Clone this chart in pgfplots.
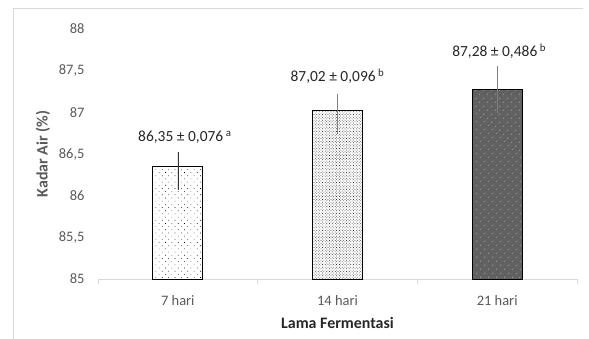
\documentclass[border=0pt]{standalone}
\usepackage{fontspec}
\setmainfont{Carlito}
\usepackage{pgfplots}
\pgfplotsset{compat=1.18}
\usetikzlibrary{patterns.meta}

\definecolor{ticktext}{HTML}{595959}
\definecolor{labeltext}{HTML}{262626}
\definecolor{axisgray}{HTML}{D9D9D9}
\definecolor{errgray}{HTML}{7F7F7F}

\begin{document}
\begin{tikzpicture}[x=1bp,y=1bp]
\begin{axis}[
  at={(98bp,59bp)}, anchor=south west,
  scale only axis,
  width=479bp, height=250bp,
  ybar, bar width=50bp, bar shift=0pt,
  xmin=-0.5, xmax=2.5,
  ymin=85, ymax=88,
  ytick={85,85.5,86,86.5,87,87.5,88},
  xtick={0,1,2},
  xticklabels={7 hari,14 hari,21 hari},
  minor xtick={-0.5,0.5,1.5,2.5},
  major tick length=0pt,
  minor tick length=5bp,
  tick align=outside,
  axis x line*=bottom, axis y line*=left,
  x axis line style={draw=axisgray, line width=0.8bp, -},
  y axis line style={draw=none},
  minor x tick style={draw=axisgray, line width=0.8bp},
  ytick style={draw=none},
  ticklabel style={font=\fontsize{14.5}{16}\selectfont, text=ticktext},
  /pgf/number format/fixed,
  /pgf/number format/use comma,
  /pgf/number format/precision=1,
  /pgf/number format/assume math mode=true,
  yticklabel style={xshift=-10bp},
  xticklabel style={yshift=-13bp},
  xlabel={Lama Fermentasi},
  ylabel={Kadar Air (\%)},
  xlabel style={at={(axis description cs:0.5,0)}, anchor=center, yshift=-44bp,
    font=\fontsize{16}{18}\selectfont\bfseries, text=labeltext},
  ylabel style={at={(axis description cs:0,0.5)}, anchor=center, yshift=55bp,
    font=\fontsize{16}{18}\selectfont\bfseries, text=ticktext},
  clip=false,
  error bars/y dir=both,
  error bars/y explicit,
]
% 7 hari: sparse dots
\addplot[draw=black, line width=0.8bp,
  pattern={Dots[distance=4.5bp, radius=0.45bp, angle=45]}, pattern color=black,
  error bars/error bar style={black!80, line width=0.6bp},
  error bars/error mark=none]
  coordinates {(0,86.35) += (0,0.17) -= (0,0.28)};
% 14 hari: fine dense dots
\addplot[draw=black, line width=0.8bp,
  pattern={Dots[distance=2bp, radius=0.5bp, angle=45]}, pattern color=black!80,
  error bars/error bar style={errgray, line width=0.8bp},
  error bars/error mark=none]
  coordinates {(1,87.02) += (0,0.20) -= (0,0.28)};
% 21 hari: dark fill with light dots
\addplot[draw=black, line width=0.8bp, fill=black!62,
  postaction={pattern={Dots[distance=6bp, radius=0.6bp, angle=45]}, pattern color=white!85!black},
  error bars/error bar style={errgray, line width=0.8bp},
  error bars/error mark=none]
  coordinates {(2,87.28) += (0,0.27) -= (0,0.29)};

\node[anchor=base, yshift=11bp, xshift=7bp, font=\fontsize{15.5}{17}\selectfont, text=labeltext]
  at (axis cs:0,86.52) {86,35 ± 0,076\,\textsuperscript{a}};
\node[anchor=base, yshift=12bp, font=\fontsize{15.5}{17}\selectfont, text=labeltext]
  at (axis cs:1,87.22) {87,02 ± 0,096\,\textsuperscript{b}};
\node[anchor=base, yshift=10bp, xshift=2bp, font=\fontsize{15.5}{17}\selectfont, text=labeltext]
  at (axis cs:2,87.55) {87,28 ± 0,486\,\textsuperscript{b}};
\end{axis}
% chart area frame
\draw[axisgray, line width=0.8bp] (13,-2) -- (13,330) -- (583,330);
\pgfresetboundingbox
\useasboundingbox (0,0) rectangle (589,338);
\end{tikzpicture}
\end{document}
